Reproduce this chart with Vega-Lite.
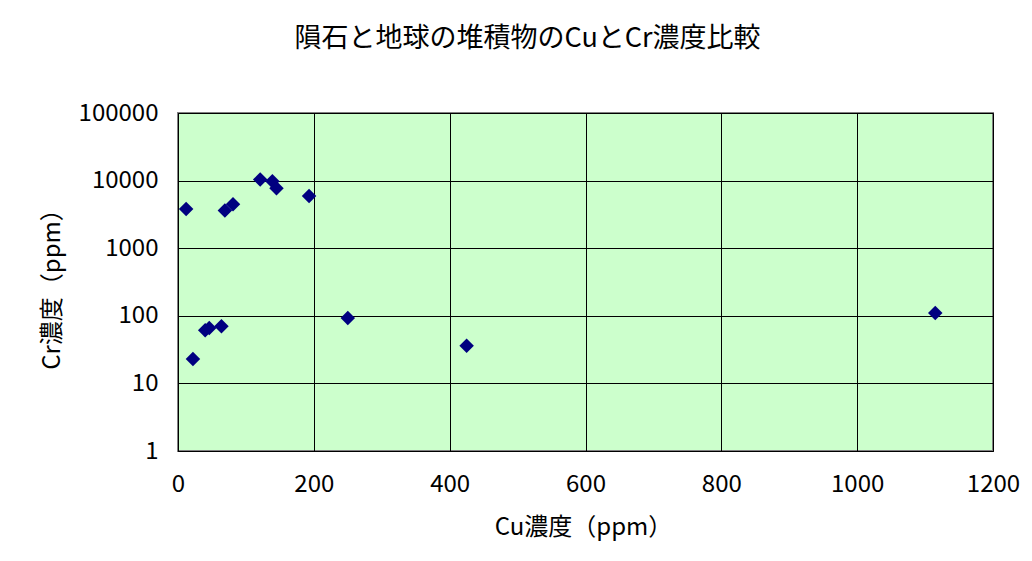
{
  "$schema": "https://vega.github.io/schema/vega-lite/v6.json",
  "width": 815,
  "height": 338,
  "autosize": {"type": "none"},
  "padding": {"left": 178, "top": 113, "right": 39, "bottom": 110},
  "background": "white",
  "title": {
    "text": "隕石と地球の堆積物のCuとCr濃度比較",
    "font": "Noto Sans CJK JP",
    "fontSize": 27,
    "fontWeight": "normal",
    "color": "black",
    "anchor": "middle",
    "frame": "group",
    "dx": -58,
    "offset": 48
  },
  "data": {
    "values": [
      {"cu": 12, "cr": 3800},
      {"cu": 121, "cr": 10400},
      {"cu": 139, "cr": 9800},
      {"cu": 145, "cr": 7700},
      {"cu": 193, "cr": 5900},
      {"cu": 69, "cr": 3600},
      {"cu": 81, "cr": 4450},
      {"cu": 250, "cr": 93},
      {"cu": 40, "cr": 61},
      {"cu": 46, "cr": 66},
      {"cu": 64, "cr": 70},
      {"cu": 22, "cr": 23},
      {"cu": 425, "cr": 36},
      {"cu": 1115, "cr": 110}
    ]
  },
  "mark": {"type": "point", "shape": "diamond", "filled": true, "size": 210, "color": "#000080", "opacity": 1},
  "encoding": {
    "x": {
      "field": "cu",
      "type": "quantitative",
      "scale": {"domain": [0, 1200], "nice": false, "zero": true},
      "axis": {
        "title": "Cu濃度（ppm）",
        "values": [0, 200, 400, 600, 800, 1000, 1200],
        "format": "d",
        "grid": true,
        "gridColor": "black",
        "gridOpacity": 1,
        "gridWidth": 1,
        "domainColor": "black",
        "ticks": false,
        "labelFont": "Noto Sans CJK JP",
        "labelFontSize": 24,
        "labelColor": "black",
        "labelPadding": 21,
        "labelFlush": false,
        "titleFont": "Noto Sans CJK JP",
        "titleFontSize": 24,
        "titleFontWeight": "normal",
        "titleColor": "black",
        "titleBaseline": "middle",
        "titleY": 76,
        "titleX": 405
      }
    },
    "y": {
      "field": "cr",
      "type": "quantitative",
      "scale": {"type": "log", "domain": [1, 100000], "nice": false},
      "axis": {
        "title": "Cr濃度（ppm）",
        "values": [1, 10, 100, 1000, 10000, 100000],
        "format": "d",
        "grid": true,
        "gridColor": "black",
        "gridOpacity": 1,
        "gridWidth": 1,
        "domainColor": "black",
        "ticks": false,
        "labelFont": "Noto Sans CJK JP",
        "labelFontSize": 24,
        "labelColor": "black",
        "labelPadding": 20,
        "labelFlush": false,
        "titleFont": "Noto Sans CJK JP",
        "titleFontSize": 24,
        "titleFontWeight": "normal",
        "titleColor": "black",
        "titleAngle": -90,
        "titleBaseline": "middle",
        "titleX": -126,
        "titleY": 170
      }
    }
  },
  "config": {
    "view": {"fill": "#ccffcc", "stroke": "#808080", "strokeWidth": 2}
  }
}
